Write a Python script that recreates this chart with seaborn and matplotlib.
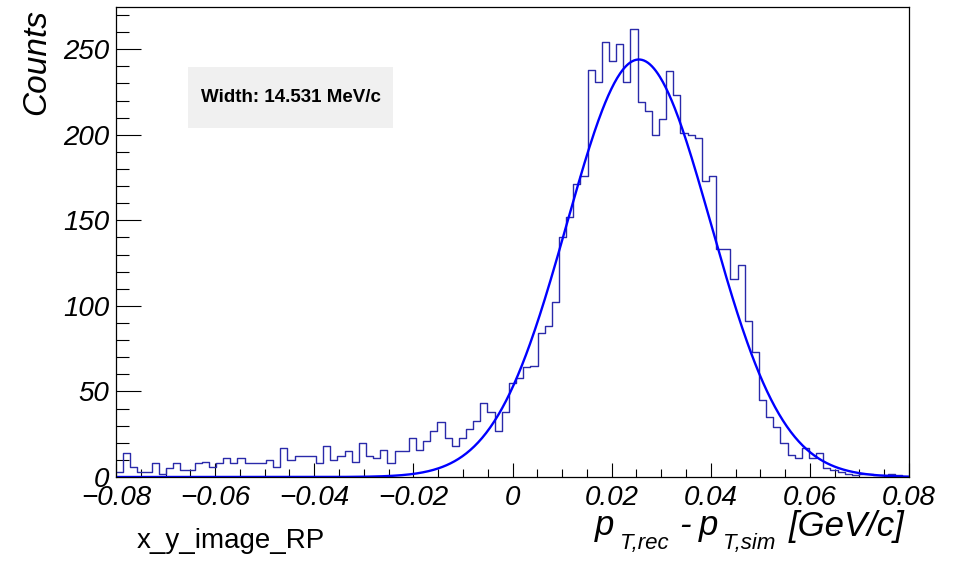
import numpy as np
import pandas as pd
import matplotlib
matplotlib.use("Agg")
import matplotlib.pyplot as plt
from matplotlib.ticker import FixedLocator, FixedFormatter, MultipleLocator
from matplotlib.patches import Rectangle
import seaborn as sns

# ---------------- data ----------------
x_min, x_max = -0.08, 0.08
n_bins = 111
counts = [3, 14, 6, 3, 3, 8, 2, 5, 8, 4, 4, 8, 9, 6, 8, 11, 8, 11, 8, 8,
          8, 10, 6, 17, 10, 12, 12, 12, 8, 18, 10, 12, 15, 9, 20, 12, 11, 16, 8, 15,
          15, 23, 16, 21, 27, 32, 23, 18, 23, 28, 33, 43, 38, 27, 38, 55, 58, 64, 65, 84,
          88, 102, 140, 152, 171, 176, 238, 231, 254, 243, 253, 231, 262, 219, 214, 200, 209, 237, 223, 201,
          200, 198, 173, 176, 133, 133, 116, 124, 91, 73, 45, 35, 29, 20, 13, 11, 17, 11, 14, 5,
          4, 3, 2, 1, 2, 2, 1, 1, 2, 1, 0]
fit_amplitude = 244.0
fit_mean = 0.0255
fit_sigma = 0.014531
x_ticks = [-0.08, -0.06, -0.04, -0.02, 0.0, 0.02, 0.04, 0.06, 0.08]
x_tick_labels = ["\u22120.08", "\u22120.06", "\u22120.04", "\u22120.02", "0", "0.02", "0.04", "0.06", "0.08"]
y_ticks = [0, 50, 100, 150, 200, 250]
y_tick_labels = ["0", "50", "100", "150", "200", "250"]
width_text = "Width: 14.531 MeV/c"
hist_name = "x_y_image_RP"

# ---------------- style ----------------
sns.set_style("white")
plt.rcParams["font.family"] = ["Liberation Sans", "DejaVu Sans"]
plt.rcParams["font.style"] = "italic"
plt.rcParams["text.color"] = "black"
plt.rcParams["xtick.color"] = "black"
plt.rcParams["ytick.color"] = "black"
plt.rcParams["xtick.labelcolor"] = "black"
plt.rcParams["ytick.labelcolor"] = "black"

W, H = 965, 562
fig = plt.figure(figsize=(W / 100, H / 100), dpi=100)
ax = fig.add_axes([116 / W, 1 - 477 / H, 793 / W, 469.7 / H])

edges = np.linspace(x_min, x_max, n_bins + 1)
centers = 0.5 * (edges[:-1] + edges[1:])
df = pd.DataFrame({"x": centers, "n": counts})

sns.histplot(data=df, x="x", weights="n", bins=n_bins, binrange=(x_min, x_max),
             element="step", fill=False, color="#2a2aaa", linewidth=1.0, ax=ax)

xs = np.linspace(x_min, x_max, 800)
fit_df = pd.DataFrame({"x": xs,
                       "y": fit_amplitude * np.exp(-0.5 * ((xs - fit_mean) / fit_sigma) ** 2)})
sns.lineplot(data=fit_df, x="x", y="y", color="#0000ff", linewidth=1.7, ax=ax)

ax.set_xlim(x_min, x_max)
ax.set_ylim(0, 274.5)
ax.set_xlabel("")
ax.set_ylabel("")

for s in ax.spines.values():
    s.set_color("black")
    s.set_linewidth(0.9)

ax.xaxis.set_major_locator(FixedLocator(x_ticks))
ax.xaxis.set_major_formatter(FixedFormatter(x_tick_labels))
ax.xaxis.set_minor_locator(MultipleLocator(0.005))
ax.yaxis.set_major_locator(FixedLocator(y_ticks))
ax.yaxis.set_major_formatter(FixedFormatter(y_tick_labels))
ax.yaxis.set_minor_locator(MultipleLocator(10))

ax.tick_params(axis="x", which="major", direction="in", length=10, width=0.8,
               bottom=True, top=False, labelsize=20, pad=6, colors="black")
ax.tick_params(axis="x", which="minor", direction="in", length=6, width=0.8,
               bottom=True, top=False)
ax.tick_params(axis="y", which="major", direction="in", length=18, width=0.8,
               left=True, right=False, labelsize=20, pad=5, colors="black")
ax.tick_params(axis="y", which="minor", direction="in", length=9, width=0.8,
               left=True, right=False)

# y title
fig.text(37 / W, 1 - 9 / H, "Counts", rotation=90, ha="center", va="top",
         fontsize=24, fontstyle="italic")

# x title built from pieces (ROOT-like sub-scripts)
def ftxt(px, py, s, size):
    fig.text(px / W, 1 - py / H, s, ha="left", va="baseline", fontsize=size,
             fontstyle="italic")

ftxt(595, 535, "p", 25)
ftxt(620, 549, "T,rec", 16)
ftxt(679, 535, "-", 25)
ftxt(699, 535, "p", 25)
ftxt(723, 549, "T,sim", 16)
ftxt(789, 536, "[GeV/c]", 25)

# histogram name
fig.text(137 / W, 1 - 548 / H, hist_name, ha="left", va="baseline", fontsize=20,
         fontstyle="normal")

# width box
fig.patches.append(Rectangle((188 / W, 1 - 128 / H), (393 - 188) / W, (128 - 67) / H,
                             transform=fig.transFigure, facecolor="#f0f0f0",
                             edgecolor="none", zorder=1))
fig.text(0.5 * (188 + 393) / W, 1 - 98 / H, width_text,
         ha="center", va="center", fontsize=13.5, fontweight="bold",
         fontstyle="normal", zorder=5)

fig.savefig("out.png", dpi=100)
